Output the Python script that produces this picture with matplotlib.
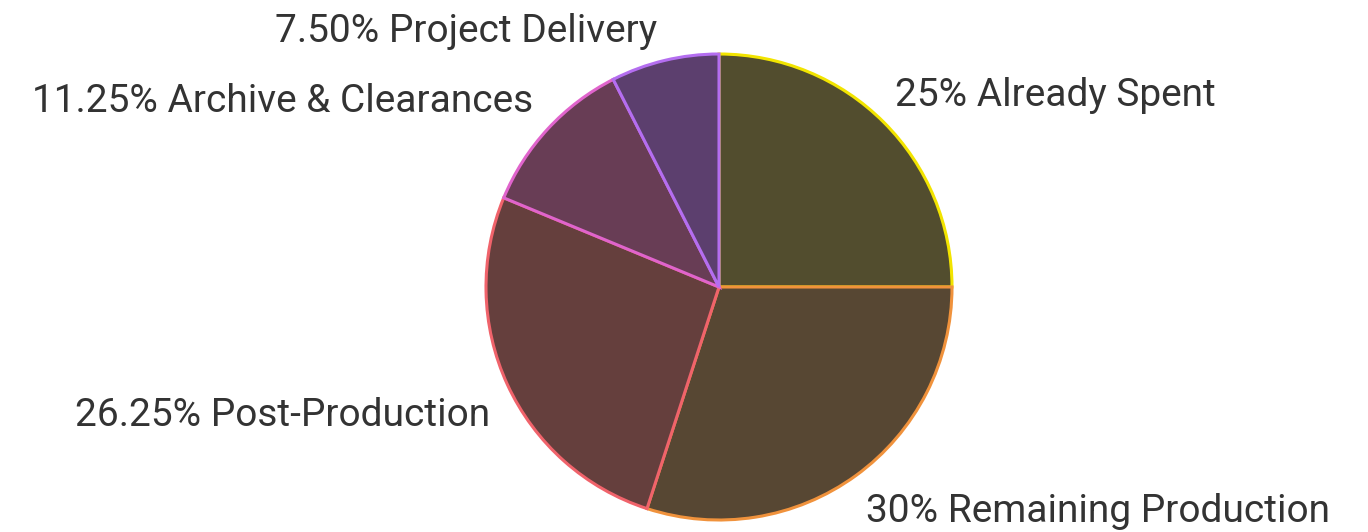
import matplotlib.pyplot as plt
import numpy as np

plt.rcParams['font.family'] = ['Roboto', 'DejaVu Sans']

labels = ['Already Spent', 'Remaining Production', 'Post-Production',
          'Archive & Clearances', 'Project Delivery']
shares = [25, 30, 26.25, 11.25, 7.5]
pct_text = ['25%', '30%', '26.25%', '11.25%', '7.50%']

fills = ['#524d2e', '#574733', '#653f3d', '#683d55', '#5c3f6e']
edges = ['#f2e400', '#f0923c', '#f0636b', '#e064cc', '#b46ef0']

fig = plt.figure(figsize=(13.68, 5.32), dpi=100)
ax = fig.add_axes([0, 0, 1, 1])

wedges, texts = ax.pie(shares, startangle=90, counterclock=False,
                       center=(719, 245), radius=233, colors=fills,
                       labels=[p + ' ' + l for p, l in zip(pct_text, labels)],
                       textprops={'fontsize': 28, 'color': '#333333'},
                       frame=True)
for w, ec in zip(wedges, edges):
    w.set_edgecolor(ec)
    w.set_linewidth(2.2)

ax.set_xlim(0, 1368)
ax.set_ylim(0, 532)
ax.set_aspect('equal')
ax.axis('off')

# label placement (pixel coords, y up)
pos = [(895, 532 - 95, 'left'), (866, 532 - 512, 'left'),
       (490, 532 - 415, 'right'), (533, 532 - 101, 'right'),
       (657, 532 - 31, 'right')]
for t, (x, y, ha) in zip(texts, pos):
    t.set_position((x, y))
    t.set_ha(ha)
    t.set_va('center')

fig.savefig('out.png', dpi=100)
